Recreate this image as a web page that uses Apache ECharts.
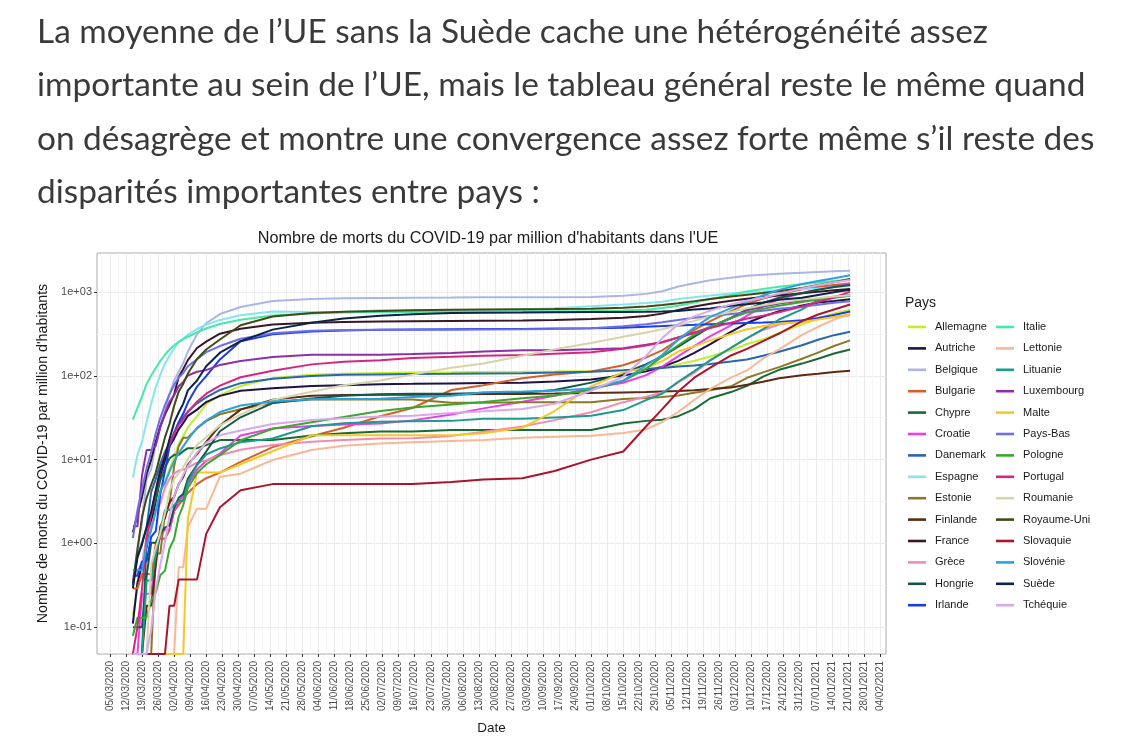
<!DOCTYPE html>
<html><head><meta charset="utf-8">
<script src="https://cdn.jsdelivr.net/npm/echarts@6/dist/echarts.min.js"></script>
<style>
html,body{margin:0;padding:0;background:#fff;}
#wrap{position:relative;width:1138px;height:740px;overflow:hidden;background:#fff;}
#txt{position:absolute;left:37px;top:4px;width:1100px;font-family:Lato,'Noto Sans',sans-serif;font-size:33.4px;line-height:53.3px;color:#3a3a3a;white-space:nowrap;}
#chart{position:absolute;left:0;top:0;width:1138px;height:740px;}
</style></head>
<body><div id="wrap"><div id="chart"></div><div id="txt">La moyenne de l’UE sans la Suède cache une hétérogénéité assez<br>importante au sein de l’UE, mais le tableau général reste le même quand<br>on désagrège et montre une convergence assez forte même s’il reste des<br>disparités importantes entre pays :</div></div>
<script>
// ---- data ----
const dates = ['2020-03-15','2020-03-17','2020-03-19','2020-03-21','2020-03-23','2020-03-25','2020-03-27','2020-03-29','2020-03-31','2020-04-02','2020-04-04','2020-04-06','2020-04-08','2020-04-12','2020-04-16','2020-04-22','2020-05-01','2020-05-15','2020-06-01','2020-06-15','2020-07-01','2020-07-15','2020-08-01','2020-08-15','2020-09-01','2020-09-15','2020-10-01','2020-10-15','2020-10-25','2020-11-01','2020-11-08','2020-11-15','2020-11-22','2020-12-01','2020-12-08','2020-12-15','2020-12-22','2021-01-01','2021-01-08','2021-01-15','2021-01-22'];

const countries = ['Allemagne','Autriche','Belgique','Bulgarie','Chypre','Croatie','Danemark','Espagne','Estonie','Finlande','France','Grèce','Hongrie','Irlande','Italie','Lettonie','Lituanie','Luxembourg','Malte','Pays-Bas','Pologne','Portugal','Roumanie','Royaume-Uni','Slovaquie','Slovénie','Suède','Tchéquie'];

const colors = ['#c2ee2c','#1e1248','#a9b6e6','#d4602a','#176b36','#ec3de8','#2a66b0','#86e6ee','#8a7a26','#5c2a10','#3a1626','#f08cb0','#14564a','#1a3cee','#48e8a8','#f6b896','#1c9a8c','#8c30a8','#f5c826','#6e6ee8','#3aa830','#d42880','#d6d4a8','#424a18','#a8162e','#2aa2de','#0e2444','#d8a8e8'];

const xTickDates = ['2020-03-05','2020-03-12','2020-03-19','2020-03-26','2020-04-02','2020-04-09','2020-04-16','2020-04-23','2020-04-30','2020-05-07','2020-05-14','2020-05-21','2020-05-28','2020-06-04','2020-06-11','2020-06-18','2020-06-25','2020-07-02','2020-07-09','2020-07-16','2020-07-23','2020-07-30','2020-08-06','2020-08-13','2020-08-20','2020-08-27','2020-09-03','2020-09-10','2020-09-17','2020-09-24','2020-10-01','2020-10-08','2020-10-15','2020-10-22','2020-10-29','2020-11-05','2020-11-12','2020-11-19','2020-11-26','2020-12-03','2020-12-10','2020-12-17','2020-12-24','2020-12-31','2021-01-07','2021-01-14','2021-01-21','2021-01-28','2021-02-04'];
const yTickValues = [0.1, 1, 10, 100, 1000];

// deaths per million, aligned with dates (0 = no death yet)
const allemagne = [0.14,0.29,0.53,1.0,1.48,2.48,4.1,5.2,7.8,10.5,15.4,19.1,24.3,33,45.8,58.8,75.8,93.9,102.7,105.8,108.3,109.3,110.2,111.2,112,112.9,114.5,116.6,120.9,126.9,137,151,170,203,240,271,325,413,480,554,615];
const autriche = [0.11,0.34,0.56,0.9,1.8,3.2,6.5,9.7,14.4,17.8,23,27.4,33.3,39.5,48.6,57.6,66.5,70.9,75.4,77.4,79.6,80.2,81.2,82.2,82.7,85.5,90.4,100.8,113,128.4,151,187.5,239,335,427,510,592,690,751,782,820];
const belgique = [0.35,0.87,1.83,5.8,7.7,15.5,25.2,37.6,61.5,88.2,112,142,195,314,424,546,663,782,826,843,851,855,859,864,864,868,875,901,951,1024,1164,1274,1385,1486,1560,1612,1656,1704,1736,1767,1794];
const bulgarie = [0.29,0.29,0.43,0.43,0.43,1.0,1.14,1.14,1.43,2.43,2.86,3.4,4.0,5.1,6.0,7.0,9.4,14.1,19,24,32.9,41.3,67.7,77.3,93.3,103.7,112.9,133.6,165.7,201.6,268.6,354,450,592,723,839,940,1082,1151,1214,1275];
const chypre = [0,0,0,1.14,2.3,3.4,5.7,8,10.3,11.4,11.4,12.6,13.7,13.7,14.9,17.1,17.1,17.1,19.4,20.6,21.7,21.7,22.6,22.6,22.6,22.6,22.6,27,29,30,33,40,54,64,76,98,118,140,160,185,206];
const croatie = [0,0,0.25,0.25,0.25,0.74,1.23,1.47,1.47,2.45,3.2,3.7,5.1,7.6,9.6,11.8,19.4,23.5,25.2,26.2,27,29.4,34.6,40.9,49,57.8,71.3,82.6,102,129,172,227,298.5,401,523.5,670,828,969,1078,1168,1230];
const danemark = [0.34,0.69,1.03,1.55,4.1,5.85,8.95,12.4,15.5,21.2,27.7,32.2,37.5,47,55.2,67.8,81.8,92.4,99.8,103,104,105,105.9,106.9,107.7,109.3,111.9,116.4,120.3,124.4,129,133,138,147.8,157,174,194,231.5,269.5,305.8,336];
const espagne = [6.1,11.4,16.4,28.3,46.5,73.2,103.6,139.2,174.6,213,250,278,310,362,408,463,529,585,578,578.6,604.6,605.7,606.5,610,620,640,678,712,741,765,828,869,909,961,995,1024,1056,1084,1106,1137,1180];
const estonie = [0,0,0,0,0,0.76,0.76,2.3,3.0,8.3,14.4,18.2,18.2,23.5,28.8,34.8,40,47.7,52.3,52.3,52.3,52.3,47.7,47.7,48.5,48.5,48.5,53,54.5,56,58.3,62.9,67.4,75,94.7,110,127,160,189,227,265];
const finlande = [0,0,0,0.18,0.18,0.54,1.6,2.0,3.1,3.6,5.1,6.2,8.7,11.6,16.3,25.5,39.5,52,58,59,59.4,59.6,60,60.5,60.9,61.4,62.5,63.4,64,65.2,66,67.4,69.7,72.5,78.4,85.1,93.3,101.6,106,111,115];
const france = [1.36,2.2,3.6,6.7,10,16.4,25.3,34.5,45,60,97,120.6,154,214.8,256,318.5,363.8,409,430,439,445,448,451.7,453.8,457,463,477,493,519,552.5,612,672,727,788,829,871.5,910.7,966.5,1006,1049,1088];
const grece = [0.37,0.47,0.56,1.2,1.6,2.4,3.0,4.6,5.9,6.8,7.4,7.6,8.0,9.2,9.8,11.3,13.1,14.9,16.3,17.1,17.9,18,19.2,21.5,24.8,29.6,36.7,48.5,56.3,62.8,83.3,108.7,152,216.5,280,353,410.6,451,480,504,530];
const hongrie = [0.1,0.1,0.1,0.41,1.02,1.02,1.33,1.54,1.64,2.66,3.5,3.9,5.9,8.7,12.5,21.8,32,47.3,53.8,58,60.3,61,61.1,62.2,62.8,67.7,83,106.7,138,171,222.6,293.5,382.7,490,620,741,856,976,1062,1149,1215];
const irlande = [0.41,0.41,0.61,0.61,1.2,1.4,3.9,7.3,14.5,20,28,35.5,48,74.5,99,157,258,313,337,348,354,357,360,362,363,366,369,376,386,392,400,406,414,422,428,433,440,460,489,532,585];
const italie = [30.0,41.5,56.4,80,100.7,124,151,178.6,206,230.5,254.5,273.7,292.7,329.7,367,415.6,467.8,523.7,553.6,569.4,576,579.6,582,583.7,587.9,590,594.7,602.6,616.5,643,685.8,749,825,920.7,1014.6,1091,1157,1236,1299,1355,1410];
const lettonie = [0,0,0,0,0,0,0,0,0,0,0.52,0.52,1.56,2.6,2.6,6.25,6.8,9.9,13,14.6,15.6,16.1,16.7,17.2,18.2,18.75,19.3,20.8,22.9,28.1,37,51.6,69.8,95.3,116,161,207,308,385,468,545];
const lituanie = [0,0,0,0.36,0.36,0.72,1.43,2.5,2.5,2.87,3.2,3.2,5.4,8.6,11.5,13.6,16.1,17.9,25,27.2,28.3,28.7,29,30.8,30.8,31.9,33.3,39,51.3,61.3,85,113.6,153.8,215.8,282,360,470,620,800,880,930];
const luxembourg = [1.6,1.6,6.5,13,13,14.7,24.4,35.8,48.9,58.6,75,84.7,101,112,117,135,150,168,179,179,179,182,187,195,202,202,207,213,234.5,252,287,324,383,490,604,671,728,795,829,866,905];
const malte = [0,0,0,0,0,0,0,0,0,0,0,0,2.0,7.0,7.0,7.0,8.8,12.6,19.5,19.5,19.5,19.5,19.5,20.7,24,38,75,110,125,150,195,225,265,315,360,390,420,440,470,505,545];
const paysBas = [1.16,2.5,4.4,7.9,12.3,20.6,31.6,44.6,60,77.5,95.5,108,130,158,192,226.6,277.5,322,345,351.5,354,355,355.7,358,360,362.7,370.8,390.5,413.8,436.8,464,492,518,548,572,598,630.6,669,706,745,778];
const pologne = [0.079,0.13,0.13,0.13,0.21,0.26,0.42,0.47,0.87,1.13,2.08,2.87,4.58,6.93,8.74,11.3,17,23.3,28,32.2,38,42,45.6,48.6,53.9,58.1,68.2,87.1,121.5,170.5,231.9,309.7,386,487.6,569.7,629.8,685.8,762.6,814.5,854.8,908];
const portugal = [0,0.1,0.29,1.17,2.24,4.2,7.4,11.6,15.6,20.3,25.9,30.3,37,49,61.2,76.4,96.2,115,137,147.6,153,163,169,173.5,177.4,183.7,191.7,210,230.6,252,288,329,372,430.7,482.8,522.7,574,672,759,862,1010];
const roumanie = [0,0,0,0,0.57,0.88,1.34,2.27,4.2,5.9,6.85,8.1,10.1,15,18.5,25.7,34.4,51.6,64.6,77.2,88,103.4,125,140.2,173.4,207,246.8,292,329,359,402.5,453,513,579,640,695,748,812,848.5,883,918];
const royaumeUni = [0.32,0.84,2.06,3.5,5.0,7.0,11.4,18.4,26.8,43.8,64.7,80.6,106.5,159,206,271.6,401.7,510,561,580,594,605,615,619,623,626,632,651,674,701,735,779,828,887,930,974,1025,1119,1214,1310,1435];
const slovaquie = [0,0,0,0,0,0,0,0,0.18,0.18,0.37,0.37,0.37,0.37,1.3,2.7,4.3,5.1,5.1,5.1,5.1,5.1,5.4,5.8,6.0,7.3,10,12.5,25,40,65,95,125,175,210,260,320,450,540,620,710];
const slovenie = [0.48,0.48,0.48,0.96,1.44,2.4,4.3,5.3,7.2,9.6,12,14.4,17.3,24,29.3,37,44.2,49.5,52.4,53,53.4,55.8,57.7,63.5,64.9,66.3,70.7,88,133.7,177,272,376,506,642,767,909,1062,1249,1354,1462,1590];
const suede = [0.29,0.68,0.98,1.56,2.4,4.3,7.5,10.8,17.6,27.6,36.5,46.6,67,88,130,189,259,356,430,483,521,545,561,565,569,573,576,578.5,580,586.7,594.5,620,635,684,713,749.5,809,853,922,995.6,1065];
const tchequie = [0,0,0,0,0.094,0.28,0.56,1.03,2.16,3.66,5.0,6.6,8.3,12.1,15.9,19.5,22.2,26.6,29.8,31.1,32.8,33.3,35.9,37.7,40.1,46.4,66.3,98,173,282,413,513,601,712,789,854,956,1101,1202,1305,1395];

const values = [allemagne,autriche,belgique,bulgarie,chypre,croatie,danemark,espagne,estonie,finlande,france,grece,hongrie,irlande,italie,lettonie,lituanie,luxembourg,malte,paysBas,pologne,portugal,roumanie,royaumeUni,slovaquie,slovenie,suede,tchequie];

// ---- chart ----
const DAY = 86400000;
const t = s => Date.parse(s + 'T00:00:00Z');
const xMin = t('2020-03-15') - 15.65 * DAY;
const xMax = t('2021-01-22') + 15.65 * DAY;
const yMin = Math.pow(10, -1.32);
const yMax = Math.pow(10, 3.466);
const xTicks = xTickDates.map(t);
const xMinor = [xTicks[0] - 3.5 * DAY].concat(xTicks.slice(0, -1).map(v => v + 3.5 * DAY));
const yMinor = yTickValues.slice(0, -1).map(v => v * Math.sqrt(10));
const pad = n => String(n).padStart(2, '0');
const fmtDate = v => { const d = new Date(v); return pad(d.getUTCDate()) + '/' + pad(d.getUTCMonth() + 1) + '/' + d.getUTCFullYear(); };
const fmtSci = v => { const e = Math.round(Math.log10(v)); return '1e' + (e < 0 ? '-' : '+') + pad(Math.abs(e)); };
const FONT = "'Liberation Sans', Arial, sans-serif";

const series = countries.map((c, i) => ({
  name: c, type: 'line', symbol: 'none', showSymbol: false, clip: true,
  xAxisIndex: 0, yAxisIndex: 0,
  data: dates.map((d, j) => [t(d), values[i][j] > 0 ? values[i][j] : yMin]),
  lineStyle: { width: 2, color: colors[i] },
  itemStyle: { color: colors[i] },
  emphasis: { disabled: true }
}));

const legendBase = {
  orient: 'vertical', top: 320, itemWidth: 18, itemHeight: 2.6, itemGap: 7.4,
  icon: 'rect', padding: 0, selectedMode: false,
  textStyle: { fontFamily: FONT, fontSize: 11, color: '#1a1a1a', lineHeight: 14, padding: [0, 0, 0, 4] }
};

const chart = echarts.init(document.getElementById('chart'), null, { renderer: 'canvas' });
chart.setOption({
  animation: false,
  backgroundColor: 'transparent',
  grid: { left: 97, top: 253, width: 789, height: 405, show: true, borderColor: '#aaaaaa', borderWidth: 1, backgroundColor: '#fff' },
  graphic: [
    { type: 'text', x: 488, y: 239, style: { text: "Nombre de morts du COVID-19 par million d'habitants dans l'UE", font: '16.2px ' + FONT, fill: '#1a1a1a', textAlign: 'center', textVerticalAlign: 'middle' } },
    { type: 'text', x: 905, y: 303, style: { text: 'Pays', font: '14px ' + FONT, fill: '#1a1a1a', textAlign: 'left', textVerticalAlign: 'middle' } }
  ],
  legend: [
    Object.assign({}, legendBase, { left: 908, data: countries.slice(0, 14) }),
    Object.assign({}, legendBase, { left: 996, data: countries.slice(14) })
  ],
  xAxis: [
    { type: 'value', min: xMin, max: xMax, position: 'bottom',
      axisLine: { show: false },
      axisTick: { show: true, customValues: xTicks, length: 3, lineStyle: { color: '#333' } },
      axisLabel: { customValues: xTicks, rotate: 90, margin: 7, fontFamily: FONT, fontSize: 10, color: '#4d4d4d', formatter: fmtDate },
      splitLine: { show: true, lineStyle: { color: '#ebebeb', width: 1 } },
      name: 'Date', nameLocation: 'middle', nameGap: 67, nameTextStyle: { fontFamily: FONT, fontSize: 13.5, color: '#1a1a1a' } },
    { type: 'value', min: xMin, max: xMax, position: 'bottom',
      axisLine: { show: false }, axisTick: { show: false, customValues: xMinor }, axisLabel: { show: false },
      splitLine: { show: true, lineStyle: { color: '#f5f5f5', width: 1 } } }
  ],
  yAxis: [
    { type: 'log', logBase: 10, min: yMin, max: yMax,
      axisLine: { show: false },
      axisTick: { show: true, customValues: yTickValues, length: 3, lineStyle: { color: '#333' } },
      axisLabel: { customValues: yTickValues, margin: 5, fontFamily: FONT, fontSize: 11, color: '#4d4d4d', formatter: fmtSci },
      splitLine: { show: true, lineStyle: { color: '#ebebeb', width: 1 } },
      name: "Nombre de morts du COVID-19 par million d'habitants", nameLocation: 'middle', nameGap: 40,
      nameTextStyle: { fontFamily: FONT, fontSize: 14.2, color: '#1a1a1a' } },
    { type: 'log', logBase: 10, min: yMin, max: yMax,
      axisLine: { show: false }, axisTick: { show: false, customValues: yMinor }, axisLabel: { show: false },
      splitLine: { show: true, lineStyle: { color: '#f5f5f5', width: 1 } } }
  ],
  series: series
});
</script>
</body></html>
